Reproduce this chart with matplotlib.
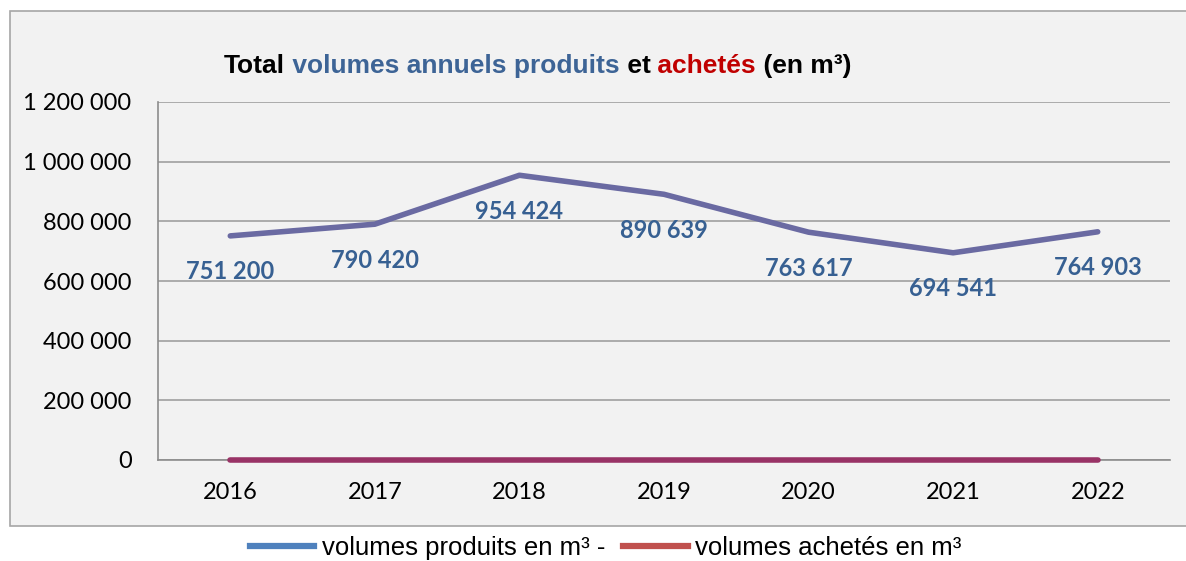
import matplotlib
matplotlib.use("Agg")
import matplotlib.pyplot as plt
from matplotlib.lines import Line2D
from matplotlib.patches import Rectangle
from matplotlib.ticker import FuncFormatter

years = ["2016", "2017", "2018", "2019", "2020", "2021", "2022"]
produits = [751200, 790420, 954424, 890639, 763617, 694541, 764903]
achetes = [0, 0, 0, 0, 0, 0, 0]
y_ticks = [0, 200000, 400000, 600000, 800000, 1000000, 1200000]

BG = "#f2f2f2"
LABEL_BLUE = "#376092"


def fmt_space(v, pos=None):
    return f"{int(v):,}".replace(",", " ")


fig = plt.figure(figsize=(11.86, 5.61), dpi=100)
fig.patch.set_facecolor("white")

# grey chart box
fig.patches.append(Rectangle((10 / 1186, 35 / 561), 1.0, 515 / 561, transform=fig.transFigure,
                             facecolor=BG, edgecolor="#a6a6a6", linewidth=1.2, zorder=-5))

ax = fig.add_axes([158 / 1186, 101 / 561, 1012 / 1186, 358 / 561])
ax.set_facecolor(BG)

x = list(range(len(years)))
ax.plot(x, produits, color="#6a6aa2", linewidth=4, solid_capstyle="round", zorder=3)
ax.plot(x, achetes, color="#993366", linewidth=4, solid_capstyle="round", zorder=3, clip_on=False)

for xi, v in zip(x, produits):
    ax.annotate(fmt_space(v), (xi, v), xytext=(0, -36), textcoords="offset pixels",
                ha="center", va="center", fontsize=17, fontweight="bold",
                family="Lato", color=LABEL_BLUE, zorder=4)

ax.set_xlim(-0.5, len(years) - 0.5)
ax.set_ylim(0, 1200000)
ax.set_xticks(x)
ax.set_xticklabels(years)
ax.set_yticks(y_ticks)
ax.yaxis.set_major_formatter(FuncFormatter(fmt_space))
ax.tick_params(length=0, labelsize=17)
ax.tick_params(axis="y", pad=19)
ax.tick_params(axis="x", pad=16)
for lab in ax.get_xticklabels() + ax.get_yticklabels():
    lab.set_family("Lato")

ax.grid(axis="y", color="#a0a0a0", linewidth=1.2)
ax.set_axisbelow(True)
for s in ["top", "right"]:
    ax.spines[s].set_visible(False)
for s in ["left", "bottom"]:
    ax.spines[s].set_color("#8c8c8c")
    ax.spines[s].set_linewidth(1.2)

# multi-coloured title, pieces chained one after the other
parts = [("Total", "black"), (" volumes annuels produits", "#3d6496"),
         (" et", "black"), (" achetés", "#c00000"), (" (en m³)", "black")]
tfont = dict(family="Liberation Sans", fontweight="bold", fontsize=19)
t = fig.text(224 / 1186, 1 - 73 / 561, parts[0][0], color=parts[0][1], va="baseline", **tfont)
for s, c in parts[1:]:
    t = ax.annotate(s, xy=(1, 0), xycoords=t, va="bottom", ha="left",
                    color=c, annotation_clip=False, **tfont)

handles = [Line2D([], [], color="#4f81bd", linewidth=4.5),
           Line2D([], [], color="#c0504d", linewidth=4.5)]
fig.legend(handles, ["volumes produits en m³ -", "volumes achetés en m³"],
           loc="center", bbox_to_anchor=(606 / 1186, 1 - 548 / 561), ncol=2, frameon=False,
           prop=dict(family="Liberation Sans", size=18.5),
           handlelength=2.5, handletextpad=0.3, columnspacing=0.7)

fig.savefig("out.png", dpi=100)
